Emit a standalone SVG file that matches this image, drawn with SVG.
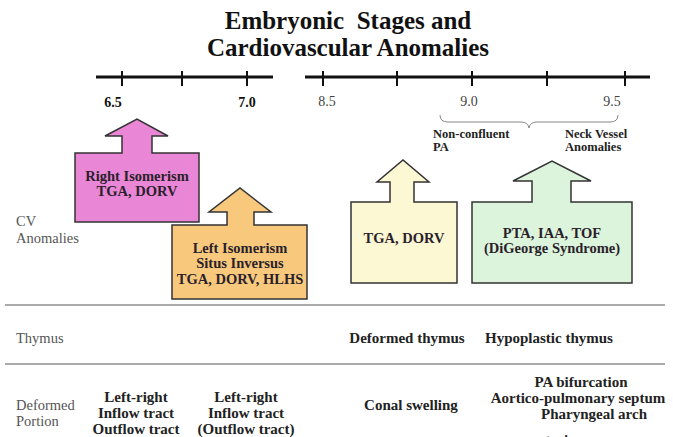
<svg xmlns="http://www.w3.org/2000/svg" width="673" height="437" viewBox="0 0 673 437">
<style>
text{font-family:"Liberation Serif","Times New Roman",serif}
.title{font-size:25px;font-weight:bold;fill:#111;text-anchor:middle;white-space:pre}
.tl{stroke:#111;stroke-width:3;fill:none}
.tk{stroke:#111;stroke-width:2}
.lb{font-size:14px;font-weight:bold;fill:#111;text-anchor:middle}
.lr{font-size:14px;fill:#444;text-anchor:middle}
.side{font-size:14.5px;fill:#555}
.bx{stroke:#333;stroke-width:1.5}
.bt{font-size:14.5px;font-weight:bold;fill:#2a1f2a;text-anchor:middle}
.row{font-size:15px;font-weight:bold;fill:#222;text-anchor:middle}
.sep{stroke:#aaa;stroke-width:2}
.small{font-size:12.5px;font-weight:bold;fill:#222}
</style>
<rect width="673" height="437" fill="#fff"/>
<text class="title" x="348" y="29">Embryonic  Stages and</text>
<text class="title" x="348" y="56">Cardiovascular Anomalies</text>
<g id="timeline">
<line class="tl" x1="96" y1="77" x2="273" y2="77"/>
<line class="tl" x1="305" y1="77" x2="650" y2="77"/>
<line class="tk" x1="122" y1="71" x2="122" y2="86"/>
<line class="tk" x1="182" y1="71" x2="182" y2="86"/>
<line class="tk" x1="247" y1="71" x2="247" y2="86"/>
<line class="tk" x1="323" y1="71" x2="323" y2="86"/>
<line class="tk" x1="397" y1="71" x2="397" y2="86"/>
<line class="tk" x1="472" y1="71" x2="472" y2="86"/>
<line class="tk" x1="547" y1="71" x2="547" y2="86"/>
<line class="tk" x1="625" y1="71" x2="625" y2="86"/>
<text class="lb" x="113" y="107">6.5</text>
<text class="lb" x="247" y="107">7.0</text>
<text class="lr" x="327" y="106">8.5</text>
<text class="lr" x="469" y="106">9.0</text>
<text class="lr" x="612" y="106">9.5</text>
<path d="M440,115 Q440,122 448,122 L521,122 Q528,122 529,128 Q530,122 537,122 L610,122 Q618,122 618,115" fill="none" stroke="#888" stroke-width="1"/>
<text class="small" x="433" y="138">Non-confluent</text>
<text class="small" x="433" y="151">PA</text>
<text class="small" x="565" y="138">Neck Vessel</text>
<text class="small" x="565" y="151">Anomalies</text>
</g>
<g id="labels">
<text class="side" x="16" y="226">CV</text>
<text class="side" x="16" y="243">Anomalies</text>
<text class="side" x="16" y="343">Thymus</text>
<text class="side" x="16" y="410">Deformed</text>
<text class="side" x="16" y="426">Portion</text>
</g>
<g id="right-isomerism">
<polygon class="bx" fill="#e986d6" points="75,153 122,153 122,136 105,136 137,119 168,136 152,136 152,153 199,153 199,222 75,222"/>
<text class="bt" x="137" y="181">Right Isomerism</text>
<text class="bt" x="137" y="196">TGA, DORV</text>
</g>
<g id="left-isomerism">
<polygon class="bx" fill="#f8c97d" points="172,225 227,225 227,212 209,212 240,188 271,212 254,212 254,225 307,225 307,299 172,299"/>
<text class="bt" x="240" y="253">Left Isomerism</text>
<text class="bt" x="240" y="268">Situs Inversus</text>
<text class="bt" x="240" y="284">TGA, DORV, HLHS</text>
</g>
<g id="tga-dorv">
<polygon class="bx" fill="#fcf8d4" points="351,202 390,202 390,182 377,182 403,160 429,182 414,182 414,202 457,202 457,283 351,283"/>
<text class="bt" x="404" y="243">TGA, DORV</text>
</g>
<g id="pta-iaa-tof">
<polygon class="bx" fill="#dcf3dc" points="472,202 532,202 532,181 513,181 552,161 591,181 571,181 571,202 632,202 632,283 472,283"/>
<text class="bt" x="552" y="238">PTA, IAA, TOF</text>
<text class="bt" x="552" y="253">(DiGeorge Syndrome)</text>
</g>
<g id="connectors">
<line class="sep" x1="5" y1="305" x2="665" y2="305"/>
<line class="sep" x1="5" y1="364" x2="665" y2="364"/>
</g>
<g id="rows">
<text class="row" x="407" y="343">Deformed thymus</text>
<text class="row" x="549" y="343">Hypoplastic thymus</text>
<text class="row" x="136" y="402">Left-right</text>
<text class="row" x="136" y="418">Inflow tract</text>
<text class="row" x="136" y="434">Outflow tract</text>
<text class="row" x="246" y="402">Left-right</text>
<text class="row" x="246" y="418">Inflow tract</text>
<text class="row" x="246" y="434">(Outflow tract)</text>
<text class="row" x="411" y="410">Conal swelling</text>
<text class="row" x="581" y="387">PA bifurcation</text>
<text class="row" x="578" y="403">Aortico-pulmonary septum</text>
<text class="row" x="594" y="419">Pharyngeal arch</text>
<text class="row" x="556" y="445">arteries</text>
</g>
</svg>
